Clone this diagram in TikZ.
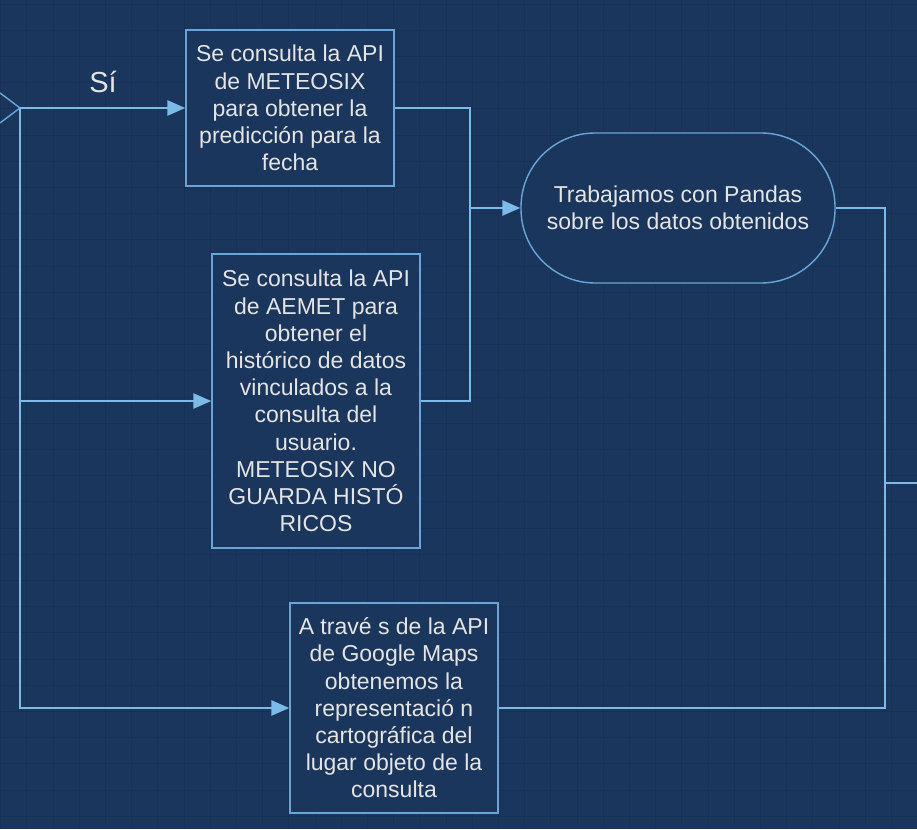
\documentclass[tikz,border=0pt]{standalone}
\usepackage{fontspec}
\setmainfont{Liberation Sans}
\usetikzlibrary{arrows.meta}

\definecolor{bgblue}{RGB}{27,54,92}
\definecolor{gridblue}{RGB}{23,48,84}
\definecolor{linkblue}{RGB}{124,186,234}
\definecolor{edgeblue}{RGB}{104,166,218}
\definecolor{txtgray}{RGB}{228,228,228}

\tikzset{
  procbox/.style={draw=edgeblue, line width=1.4pt, fill=bgblue, text=txtgray,
    align=center, inner sep=0pt, font=\fontsize{23}{27.2}\selectfont},
  conn/.style={draw=linkblue, line width=2.6pt, -{Triangle[length=18pt,width=15pt]}},
  wire/.style={draw=linkblue, line width=2.6pt},
}

\begin{document}
\begin{tikzpicture}[x=1pt, y=-1pt]

\fill[bgblue] (0,0) rectangle (917,829);
\useasboundingbox (0,0) rectangle (917,829);
\foreach \gx in {0,...,35} \draw[gridblue, line width=0.8pt] ({0.5+26.2*\gx},0) -- ++(0,829);
\foreach \gy in {0,...,32} \draw[gridblue, line width=0.8pt] (0,{4+26.2*\gy}) -- ++(917,0);

% decision (only its right tip is visible)
\coordinate (split) at (20,108);
\draw[draw=edgeblue, line width=1.4pt] (0,93) -- (split) -- (0,123);

\node[text=txtgray, font=\fontsize{29}{32}\selectfont] (si) at (103,82) {Sí};

\node[procbox, minimum width=208pt, minimum height=156pt] (meteo) at (290,108)
  {Se consulta la API\\de METEOSIX\\para obtener la\\predicción para la\\fecha};

\node[procbox, minimum width=208pt, minimum height=294pt] (aemet) at (316,401)
  {Se consulta la API\\de AEMET para\\obtener el\\histórico de datos\\vinculados a la\\consulta del\\usuario.\\METEOSIX NO\\GUARDA HISTÓ\\RICOS};

\node[procbox, minimum width=208pt, minimum height=210pt] (maps) at (394,708)
  {A travé s de la API\\de Google Maps\\obtenemos la\\representació n\\cartográfica del\\lugar objeto de la\\consulta};

\node[procbox, rounded corners=74pt, minimum width=314pt, minimum height=150pt] (pandas) at (678,208)
  {Trabajamos con Pandas\\sobre los datos obtenidos};

\coordinate (merge) at (470,208);
\coordinate (bus) at (885,208);
\coordinate (out) at (917,483);

\draw[conn] (split) -- (meteo.west);
\draw[conn] (split |- aemet.west) -- (aemet.west);
\draw[conn] (split) |- (maps.west);

\draw[conn] (meteo.east) -| (merge) -- (pandas.west);
\draw[wire] (aemet.east) -| (merge);

\draw[wire] (pandas.east) -- (bus) |- (maps.east);
\draw[wire] (bus |- out) -- (out);
\end{tikzpicture}
\end{document}
